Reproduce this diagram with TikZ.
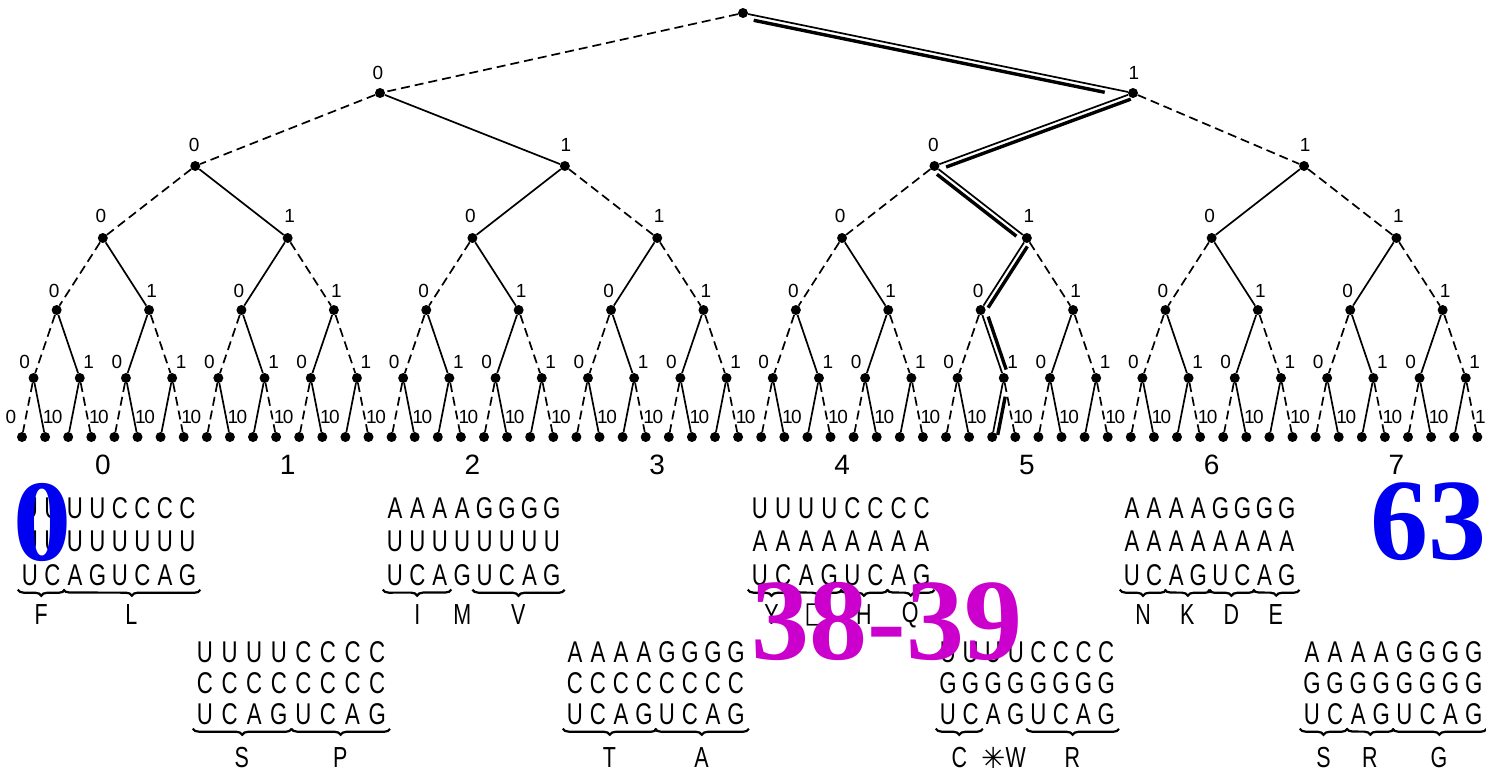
\documentclass[tikz,border=0pt]{standalone}
\usepackage{fontspec}
\setmainfont{Liberation Sans}
\newfontfamily\narrowfont[FakeStretch=0.74]{Liberation Sans}
\newfontfamily\ovfont{Liberation Serif}
\newfontfamily\symfont{DejaVu Sans}
\usetikzlibrary{calc,decorations.pathreplacing}
\definecolor{ovblue}{RGB}{0,0,240}
\definecolor{ovmag}{RGB}{204,0,204}
\newcommand\labdy{40}
\newcommand\cblock[7]{% name, x0, step, y, rowstep, row1, row2
  \foreach \ltr [count=\ii from 0] in {#6} {\node[codon] (#1a\ii) at ({#2+#3*\ii},#4) {\ltr};}
  \foreach \ltr [count=\ii from 0] in {#7} {\node[codon] (#1b\ii) at ({#2+#3*\ii},{#4+#5}) {\ltr};}
  \foreach \ltr [count=\ii from 0] in {U,C,A,G,U,C,A,G} {\node[codon] (#1c\ii) at ({#2+#3*\ii},{#4+2*#5}) {\ltr};}
}
\newcommand\brlab[4]{% block, from col, to col, label
  \draw[brc] ($(#1c#2.south west)+(-4,4)$) -- ($(#1c#3.south east)+(4,4)$);
  \node[amino] at ($(#1c#2.center)!0.5!(#1c#3.center)+(0,\labdy)$) {#4};
}
\newcommand\nolab[3]{\node[amino] at ($(#1c#2.center)+(0,\labdy)$) {#3};}
\begin{document}
\begin{tikzpicture}[x=1pt,y=-1pt,
  dot/.style={circle,fill=black,draw=none,inner sep=0pt,minimum size=10pt},
  solidedge/.style={line width=1.7pt},
  dashedge/.style={line width=1.7pt,dash pattern=on 9pt off 5pt},
  bit/.style={font=\fontsize{19}{19}\selectfont,inner sep=0pt},
  grp/.style={font=\fontsize{28}{28}\selectfont,inner sep=0pt},
  codon/.style={font=\narrowfont\fontsize{30}{30}\selectfont,inner sep=0pt},
  amino/.style={font=\narrowfont\fontsize{29}{29}\selectfont,inner sep=0pt},
  brc/.style={decorate,decoration={brace,mirror,amplitude=6pt},line width=2.2pt},
  hl/.style={line width=3.4pt},
  ov/.style={font=\ovfont\bfseries\fontsize{116}{116}\selectfont,inner sep=0pt}]
\useasboundingbox[fill=white] (0,0) rectangle (1486,773);

% leaves
\foreach \i in {0,...,63} {
  \pgfmathsetmacro\xx{22+23.1*\i}
  \node[dot] (n6-\i) at (\xx,437) {};
  \pgfmathtruncatemacro\bt{mod(\i,2)}
  \ifnum\bt=0 \node[bit] (b6-\i) at (\xx-11,417) {0};
  \else \node[bit] (b6-\i) at (\xx+3,417) {1}; \fi
}
% inner levels
\foreach \L/\yy/\cnt/\w/\dx/\dy in {5/378/31/2/9/16, 4/310/15/4/2.5/19, 3/238/7/8/2/22, 2/166/3/16/1/21} {
  \foreach \k in {0,...,\cnt} {
    \pgfmathsetmacro\xx{22+23.1*(\w*\k+(\w-1)/2)}
    \node[dot] (n\L-\k) at (\xx,\yy) {};
    \pgfmathtruncatemacro\bt{mod(\k,2)}
    \ifnum\bt=0 \node[bit] (b\L-\k) at (\xx-\dx,\yy-\dy) {0};
    \else \node[bit] (b\L-\k) at (\xx+\dx,\yy-\dy) {1}; \fi
  }
}
\node[dot] (n1-0) at (380,93) {}; \node[bit] (b1-0) at (378,73) {0};
\node[dot] (n1-1) at (1133,93) {}; \node[bit] (b1-1) at (1134,73) {1};
\node[dot] (n0-0) at (743,13) {};

% edges
\foreach \L in {0,...,5} {
  \pgfmathtruncatemacro\M{\L+1}
  \pgfmathtruncatemacro\cnt{2^\L-1}
  \foreach \k in {0,...,\cnt} {
    \pgfmathtruncatemacro\ca{2*\k}
    \pgfmathtruncatemacro\cb{2*\k+1}
    \pgfmathtruncatemacro\od{mod(\k,2)}
    \ifnum\od=0
      \draw[dashedge] (n\L-\k) -- (n\M-\ca);
      \draw[solidedge] (n\L-\k) -- (n\M-\cb);
    \else
      \draw[solidedge] (n\L-\k) -- (n\M-\ca);
      \draw[dashedge] (n\L-\k) -- (n\M-\cb);
    \fi
  }
}

% highlighted path
\foreach \p/\q/\angA/\angB/\s/\e in {n0-0/n1-1/-90/90/0.03/0.93, n1-1/n2-2/90/-90/0.02/0.95, n2-2/n3-5/-90/90/0.06/0.92, n3-5/n4-10/90/-90/0.08/0.93, n4-10/n5-21/90/-90/0.12/0.9, n5-21/n6-42/90/-90/0.3/0.95} {
  \coordinate (h1) at ($(\p)!\s!(\q)$);
  \coordinate (h2) at ($(\p)!\e!(\q)$);
  \draw[hl] ($(h1)!5pt!\angA:(h2)$) -- ($(h2)!5pt!\angB:(h1)$);
}

% group numbers
\foreach \k in {0,...,7} {\node[grp] (g\k) at ($(n3-\k)+(0,227)$) {\k};}

% codon blocks, upper row
\renewcommand\labdy{40}
\cblock{A}{30}{22.5}{508}{33.5}{U,U,U,U,C,C,C,C}{U,U,U,U,U,U,U,U}
\brlab{A}{0}{1}{F}\brlab{A}{2}{7}{L}
\cblock{C}{395}{22.4}{508}{33.5}{A,A,A,A,G,G,G,G}{U,U,U,U,U,U,U,U}
\brlab{C}{0}{2}{I}\nolab{C}{3}{M}\brlab{C}{4}{7}{V}
\cblock{E}{760}{23.1}{508}{33.5}{U,U,U,U,C,C,C,C}{A,A,A,A,A,A,A,A}
\brlab{E}{0}{1}{Y}\brlab{E}{2}{3}{{\symfont □}}\brlab{E}{4}{5}{H}\brlab{E}{6}{7}{Q}
\cblock{G}{1132}{22.1}{508}{33.5}{A,A,A,A,G,G,G,G}{A,A,A,A,A,A,A,A}
\brlab{G}{0}{1}{N}\brlab{G}{2}{3}{K}\brlab{G}{4}{5}{D}\brlab{G}{6}{7}{E}
% lower row
\renewcommand\labdy{44}
\cblock{B}{205}{24.6}{652}{31}{U,U,U,U,C,C,C,C}{C,C,C,C,C,C,C,C}
\brlab{B}{0}{3}{S}\brlab{B}{4}{7}{P}
\cblock{D}{575}{23}{652}{31}{A,A,A,A,G,G,G,G}{C,C,C,C,C,C,C,C}
\brlab{D}{0}{3}{T}\brlab{D}{4}{7}{A}
\cblock{F}{948}{22.6}{652}{31}{U,U,U,U,C,C,C,C}{G,G,G,G,G,G,G,G}
\brlab{F}{0}{1}{C}\nolab{F}{2}{{\symfont ✳}}\nolab{F}{3}{W}\brlab{F}{4}{7}{R}
\cblock{H}{1312}{23.1}{652}{31}{A,A,A,A,G,G,G,G}{G,G,G,G,G,G,G,G}
\brlab{H}{0}{1}{S}\brlab{H}{2}{3}{R}\brlab{H}{4}{7}{G}

% overlays
\node[ov,text=ovblue] (o0) at (42,522) {0};
\node[ov,text=ovblue] (o63) at (1428,522) {63};
\node[ov,text=ovmag] (o38) at (887,621) {38-39};
\end{tikzpicture}
\end{document}
